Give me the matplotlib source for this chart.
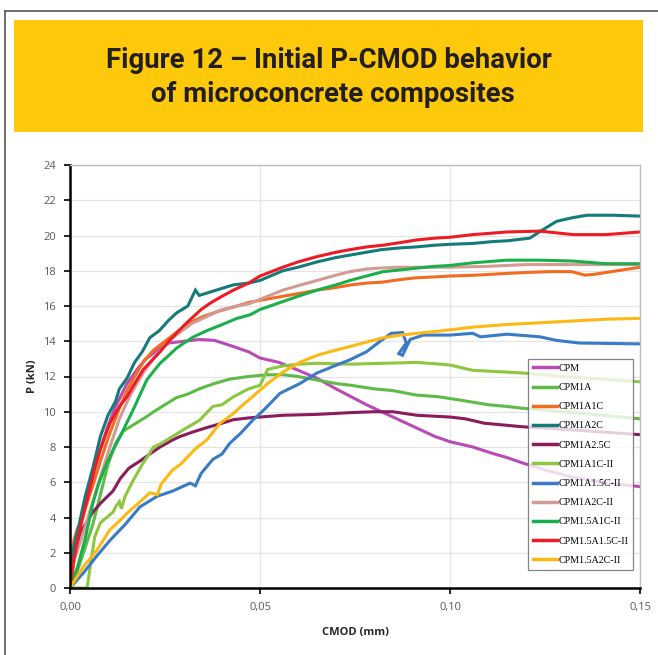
import matplotlib
matplotlib.use("Agg")
import matplotlib.pyplot as plt
from matplotlib.patches import Rectangle
from matplotlib.lines import Line2D
from matplotlib.ticker import FixedLocator, FuncFormatter

# ---- data (CMOD in mm, P in kN) ----
names = ["CPM", "CPM1A", "CPM1A1C", "CPM1A2C", "CPM1A2.5C", "CPM1A1C-II",
         "CPM1A1.5C-II", "CPM1A2C-II", "CPM1.5A1C-II", "CPM1.5A1.5C-II", "CPM1.5A2C-II"]
colors = ["#B94AB6", "#5DBB46", "#F26B21", "#137B7A", "#8B1B5B", "#8DC63F",
          "#3A7BC8", "#D29B94", "#1BAF4B", "#ED1C24", "#FDB913"]

cpm_x = [0, 0.001, 0.002, 0.004, 0.006, 0.008, 0.010, 0.012, 0.015, 0.018, 0.020, 0.023, 0.026,
         0.030, 0.034, 0.038, 0.043, 0.047, 0.050, 0.055, 0.059, 0.065, 0.070, 0.074, 0.078, 0.082,
         0.087, 0.091, 0.096, 0.100, 0.106, 0.111, 0.115, 0.119, 0.125, 0.132, 0.140, 0.150]
cpm_y = [0, 1.8, 3.0, 4.8, 6.4, 7.9, 9.2, 10.3, 11.6, 12.5, 13.0, 13.5, 13.9,
         14.0, 14.1, 14.05, 13.7, 13.4, 13.05, 12.8, 12.45, 11.9, 11.3, 10.85, 10.4, 10.0,
         9.5, 9.1, 8.6, 8.3, 8.0, 7.65, 7.4, 7.1, 6.7, 6.3, 6.0, 5.75]

cpm1a_x = [0, 0.002, 0.004, 0.006, 0.008, 0.010, 0.012, 0.014, 0.017, 0.020, 0.022, 0.025, 0.028,
           0.031, 0.034, 0.038, 0.042, 0.047, 0.052, 0.056, 0.060, 0.065, 0.070, 0.074, 0.080,
           0.085, 0.091, 0.097, 0.103, 0.110, 0.115, 0.119, 0.130, 0.140, 0.150]
cpm1a_y = [0, 1.0, 2.3, 3.6, 5.3, 7.0, 8.2, 8.9, 9.3, 9.7, 10.0, 10.4, 10.8,
           11.0, 11.3, 11.6, 11.85, 12.0, 12.1, 12.1, 12.0, 11.8, 11.6, 11.5, 11.3,
           11.2, 10.95, 10.85, 10.65, 10.4, 10.3, 10.2, 10.0, 9.8, 9.6]

a1c_x = [0, 0.0005, 0.001, 0.002, 0.003, 0.004, 0.006, 0.008, 0.0105, 0.013, 0.015, 0.017, 0.0195,
         0.022, 0.025, 0.028, 0.031, 0.035, 0.039, 0.044, 0.047, 0.052, 0.056, 0.060, 0.065,
         0.070, 0.074, 0.078, 0.082, 0.087, 0.091, 0.096, 0.100, 0.107, 0.115, 0.120, 0.126,
         0.132, 0.1355, 0.138, 0.144, 0.150]
a1c_y = [0, 2.0, 2.7, 3.4, 3.8, 4.5, 5.8, 7.2, 8.8, 10.2, 11.2, 12.0, 12.9,
         13.5, 14.0, 14.5, 15.0, 15.4, 15.7, 16.0, 16.2, 16.4, 16.55, 16.7, 16.9,
         17.05, 17.2, 17.3, 17.35, 17.5, 17.6, 17.65, 17.7, 17.75, 17.85, 17.9, 17.95,
         17.95, 17.75, 17.8, 18.0, 18.2]

a2c_x = [0, 0.0005, 0.001, 0.002, 0.003, 0.004, 0.005, 0.006, 0.008, 0.010, 0.012, 0.013, 0.015,
         0.017, 0.019, 0.021, 0.0235, 0.026, 0.028, 0.031, 0.033, 0.034, 0.037, 0.040, 0.043,
         0.047, 0.050, 0.056, 0.060, 0.065, 0.070, 0.074, 0.078, 0.082, 0.087, 0.091, 0.096,
         0.100, 0.106, 0.111, 0.115, 0.121, 0.1235, 0.128, 0.132, 0.136, 0.143, 0.150]
a2c_y = [0, 1.5, 2.3, 3.2, 4.2, 5.2, 6.0, 6.8, 8.6, 9.8, 10.6, 11.3, 11.9,
         12.8, 13.4, 14.2, 14.6, 15.2, 15.6, 16.0, 16.9, 16.6, 16.8, 17.0, 17.2,
         17.3, 17.45, 18.0, 18.2, 18.5, 18.75, 18.9, 19.05, 19.2, 19.3, 19.35, 19.45,
         19.5, 19.55, 19.65, 19.7, 19.85, 20.2, 20.8, 21.0, 21.15, 21.15, 21.1]

a25c_x = [0, 0.001, 0.0026, 0.004, 0.006, 0.008, 0.0113, 0.0132, 0.0155, 0.0184, 0.021, 0.0237,
          0.027, 0.029, 0.033, 0.036, 0.040, 0.043, 0.047, 0.050, 0.056, 0.065, 0.0737, 0.080,
          0.085, 0.0913, 0.100, 0.104, 0.109, 0.119, 0.130, 0.140, 0.150]
a25c_y = [0, 1.5, 3.1, 3.6, 4.3, 4.8, 5.5, 6.2, 6.8, 7.2, 7.6, 8.0,
          8.4, 8.6, 8.9, 9.1, 9.35, 9.55, 9.65, 9.7, 9.8, 9.85, 9.95, 10.0,
          10.0, 9.8, 9.7, 9.6, 9.35, 9.15, 9.0, 8.85, 8.7]

a1c2_x = [0, 0.0045, 0.0055, 0.0065, 0.008, 0.0113, 0.012, 0.013, 0.0135, 0.0145, 0.0166, 0.019,
          0.022, 0.024, 0.027, 0.030, 0.034, 0.0376, 0.040, 0.043, 0.047, 0.050, 0.052, 0.056,
          0.060, 0.065, 0.0737, 0.0824, 0.0913, 0.0974, 0.100, 0.106, 0.115, 0.119, 0.130,
          0.140, 0.150]
a1c2_y = [0, 0, 1.5, 2.9, 3.7, 4.3, 4.6, 4.9, 4.5, 5.2, 6.1, 7.0,
          8.0, 8.2, 8.6, 9.0, 9.5, 10.3, 10.4, 10.85, 11.3, 11.5, 12.4, 12.6,
          12.7, 12.75, 12.7, 12.75, 12.8, 12.7, 12.65, 12.35, 12.25, 12.2, 12.0,
          11.85, 11.7]

a15c2_x = [0, 0.0035, 0.007, 0.0105, 0.0145, 0.0184, 0.0229, 0.027, 0.0316, 0.033, 0.0345,
           0.0376, 0.040, 0.042, 0.045, 0.048, 0.051, 0.0553, 0.0605, 0.065, 0.069, 0.0737,
           0.078, 0.081, 0.0845, 0.0875, 0.0885, 0.0865, 0.0875, 0.0895, 0.093, 0.100, 0.106,
           0.108, 0.115, 0.1237, 0.128, 0.134, 0.150]
a15c2_y = [0, 0.85, 1.8, 2.7, 3.6, 4.6, 5.2, 5.5, 5.95, 5.8, 6.5,
           7.3, 7.6, 8.2, 8.8, 9.5, 10.1, 11.05, 11.6, 12.2, 12.55, 12.95,
           13.4, 13.9, 14.45, 14.5, 13.9, 13.3, 13.2, 14.1, 14.35, 14.35, 14.45,
           14.25, 14.4, 14.25, 14.05, 13.9, 13.85]

a2c2_x = [0, 0.001, 0.003, 0.005, 0.008, 0.0105, 0.013, 0.016, 0.0195, 0.023, 0.027, 0.032,
          0.036, 0.040, 0.044, 0.0474, 0.052, 0.056, 0.060, 0.065, 0.070, 0.0737, 0.078,
          0.0815, 0.086, 0.091, 0.096, 0.100, 0.110, 0.120, 0.130, 0.140, 0.150]
a2c2_y = [0, 1.5, 2.8, 4.2, 6.3, 8.0, 9.6, 11.0, 12.3, 13.3, 14.2, 15.0,
          15.4, 15.8, 16.0, 16.15, 16.55, 16.9, 17.15, 17.45, 17.75, 17.95, 18.1,
          18.15, 18.2, 18.2, 18.2, 18.2, 18.25, 18.35, 18.35, 18.35, 18.35]

b1c2_x = [0, 0.002, 0.004, 0.006, 0.0075, 0.0097, 0.0115, 0.0132, 0.015, 0.0166, 0.0185, 0.0202,
          0.022, 0.0237, 0.026, 0.028, 0.030, 0.0325, 0.036, 0.0395, 0.044, 0.0474, 0.050,
          0.056, 0.060, 0.065, 0.070, 0.0737, 0.078, 0.0824, 0.087, 0.0913, 0.096, 0.100,
          0.106, 0.115, 0.1237, 0.1324, 0.141, 0.150]
b1c2_y = [0, 1.2, 2.8, 4.8, 5.9, 7.1, 7.9, 8.6, 9.4, 10.1, 11.0, 11.8,
          12.3, 12.75, 13.2, 13.6, 13.9, 14.25, 14.6, 14.9, 15.3, 15.5, 15.8,
          16.25, 16.55, 16.9, 17.2, 17.45, 17.7, 17.95, 18.05, 18.15, 18.25, 18.3,
          18.45, 18.6, 18.6, 18.55, 18.4, 18.4]

b15c2_x = [0, 0.001, 0.0026, 0.004, 0.0053, 0.0065, 0.0079, 0.0092, 0.0105, 0.013, 0.015, 0.017,
           0.0193, 0.0215, 0.0237, 0.026, 0.028, 0.030, 0.0325, 0.0345, 0.0368, 0.040, 0.043,
           0.047, 0.050, 0.056, 0.060, 0.065, 0.070, 0.0737, 0.078, 0.0824, 0.087, 0.0913,
           0.096, 0.100, 0.106, 0.115, 0.1237, 0.128, 0.1324, 0.141, 0.150]
b15c2_y = [0, 1.6, 3.3, 4.6, 5.7, 6.8, 7.8, 8.6, 9.35, 10.3, 10.85, 11.6,
           12.4, 12.9, 13.4, 14.0, 14.45, 14.9, 15.4, 15.8, 16.15, 16.55, 16.9,
           17.3, 17.7, 18.2, 18.5, 18.8, 19.05, 19.2, 19.35, 19.45, 19.6, 19.75,
           19.85, 19.9, 20.05, 20.2, 20.25, 20.15, 20.05, 20.05, 20.2]

b2c2_x = [0, 0.0035, 0.0071, 0.0105, 0.013, 0.0158, 0.018, 0.021, 0.023, 0.024, 0.027, 0.029,
          0.0308, 0.033, 0.036, 0.0395, 0.043, 0.045, 0.048, 0.052, 0.056, 0.0605, 0.065,
          0.070, 0.0737, 0.078, 0.0824, 0.087, 0.0913, 0.096, 0.100, 0.106, 0.115, 0.1237,
          0.1324, 0.141, 0.150]
b2c2_y = [0, 1.2, 2.15, 3.3, 3.8, 4.4, 4.8, 5.4, 5.3, 5.9, 6.7, 7.0,
          7.4, 7.9, 8.4, 9.35, 9.9, 10.3, 10.85, 11.6, 12.25, 12.8, 13.2,
          13.5, 13.7, 13.95, 14.2, 14.35, 14.45, 14.55, 14.65, 14.8, 14.95, 15.05,
          15.15, 15.25, 15.3]

xs = [cpm_x, cpm1a_x, a1c_x, a2c_x, a25c_x, a1c2_x, a15c2_x, a2c2_x, b1c2_x, b15c2_x, b2c2_x]
ys = [cpm_y, cpm1a_y, a1c_y, a2c_y, a25c_y, a1c2_y, a15c2_y, a2c2_y, b1c2_y, b15c2_y, b2c2_y]

W, H = 658, 655
fig = plt.figure(figsize=(W / 100, H / 100), dpi=100)

# outer frame (left + top edges visible)
fig.add_artist(Line2D([5 / W, 5 / W], [0, 1 - 11 / H], color="#555555", lw=1.2))
fig.add_artist(Line2D([5 / W, 1], [1 - 11 / H, 1 - 11 / H], color="#555555", lw=1.2))

# yellow header
fig.add_artist(Rectangle((14 / W, 1 - 132 / H), 629 / W, 112 / H,
                         facecolor="#FEC90A", edgecolor="none"))
t1 = fig.text(329 / W, 1 - 68 / H, "Figure 12 – Initial P-CMOD behavior",
              ha="center", va="baseline", fontsize=19, family="Roboto",
              fontweight="bold", color="#231F20")
t2 = fig.text(333 / W, 1 - 102 / H, "of microconcrete composites",
              ha="center", va="baseline", fontsize=19, family="Roboto",
              fontweight="bold", color="#231F20")
# squeeze title to the width it has in the reference
fig.canvas.draw()
r = fig.canvas.get_renderer()
w1 = t1.get_window_extent(r).width
for t in (t1, t2):
    t.set_fontsize(19 * 445 / w1)

ax = fig.add_axes([70 / W, 1 - 588 / H, 570 / W, 423 / H])
for x, y, c, n in zip(xs, ys, colors, names):
    ax.plot(x, y, color=c, lw=2.2, label=n, solid_joinstyle="miter")

ax.set_xlim(0, 0.15)
ax.set_ylim(0, 24)
ax.xaxis.set_major_locator(FixedLocator([0, 0.05, 0.10, 0.15]))
ax.yaxis.set_major_locator(FixedLocator(range(0, 25, 2)))
ax.xaxis.set_major_formatter(FuncFormatter(lambda v, p: f"{v:.2f}".replace(".", ",")))
ax.grid(True, color="#E4E4E4", lw=0.9)
ax.set_axisbelow(True)
ax.tick_params(axis="both", direction="out", length=4, width=1.2, color="black",
               labelsize=8, labelcolor="#595959", pad=6)
for lab in ax.get_xticklabels() + ax.get_yticklabels():
    lab.set_family("Open Sans")

for s in ("left", "bottom"):
    ax.spines[s].set_color("black")
    ax.spines[s].set_linewidth(1.8)
for s in ("top", "right"):
    ax.spines[s].set_color("#BDBDBD")
    ax.spines[s].set_linewidth(1.0)

ax.set_xlabel("CMOD (mm)", fontsize=8, fontweight="bold", color="#262626",
              family="Open Sans", labelpad=10)
ax.set_ylabel("P (kN)", fontsize=8, fontweight="bold", color="#262626",
              family="Open Sans", labelpad=4)

leg = ax.legend(loc="lower right", bbox_to_anchor=(0.988, 0.043), frameon=True,
                fancybox=False, prop={"family": "Liberation Serif", "size": 7.2},
                handlelength=2.4, handletextpad=0.1, labelspacing=1.02,
                borderpad=0.5, borderaxespad=0)
leg.get_frame().set_edgecolor("#666666")
leg.get_frame().set_linewidth(0.9)
for h in leg.get_lines():
    h.set_linewidth(2.5)

fig.savefig("out.png", dpi=100)
